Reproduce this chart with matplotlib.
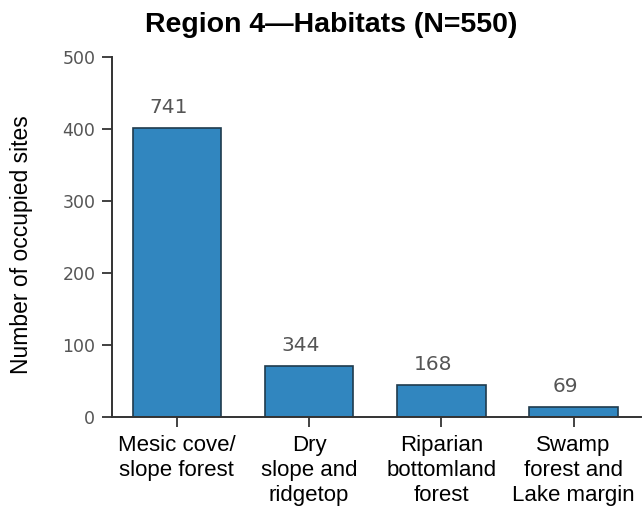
import matplotlib
matplotlib.use("Agg")
import matplotlib.pyplot as plt
import numpy as np

# data
habitats = ["Mesic cove/\nslope forest", "Dry\nslope and\nridgetop",
            "Riparian\nbottomland\nforest", "Swamp\nforest and\nLake margin"]
heights = [401, 71, 44, 14]
bar_labels = ["741", "344", "168", "69"]
yticks = [0, 100, 200, 300, 400, 500]

plt.rcParams['font.family'] = ['Liberation Sans', 'DejaVu Sans']

fig = plt.figure(figsize=(6.42, 5.15), dpi=100)
ax = fig.add_axes([0.1745, 0.190, 0.824, 0.699])

x = np.arange(len(habitats))
bars = ax.bar(x, heights, width=0.67, color='#3186bf',
              edgecolor='#1f3b4d', linewidth=1.2, zorder=2)

for b, lab in zip(bars, bar_labels):
    ax.annotate(lab, (b.get_x() + b.get_width() / 2, b.get_height()),
                xytext=(-6, 8), textcoords='offset points',
                ha='center', va='bottom', fontsize=14.5, color='#555555',
                family='DejaVu Sans')

ax.set_xlim(-0.49, 3.51)
ax.set_ylim(0, 500)
ax.set_yticks(yticks)
ax.set_xticks(x)
ax.set_xticklabels(habitats, fontsize=16, color='black', linespacing=1.25)

for lab in ax.get_yticklabels():
    lab.set_family('DejaVu Sans')
ax.tick_params(axis='y', length=7, width=1.3, pad=5, labelsize=12.5,
               labelcolor='#555555', color='#333333')
ax.tick_params(axis='x', length=7, width=1.3, pad=6, color='#333333')

ax.spines['top'].set_visible(False)
ax.spines['right'].set_visible(False)
ax.spines['left'].set_color('#333333')
ax.spines['bottom'].set_color('#333333')
ax.spines['left'].set_linewidth(1.4)
ax.spines['bottom'].set_linewidth(1.4)

ax.set_ylabel("Number of occupied sites", fontsize=16.5)
ax.yaxis.set_label_coords(-0.149, 0.478)

fig.text(0.516, 0.938, "Region 4\u2014Habitats (N=550)", ha='center', va='baseline',
         fontsize=20.5, fontweight='bold')

fig.savefig("out.png", dpi=100)
